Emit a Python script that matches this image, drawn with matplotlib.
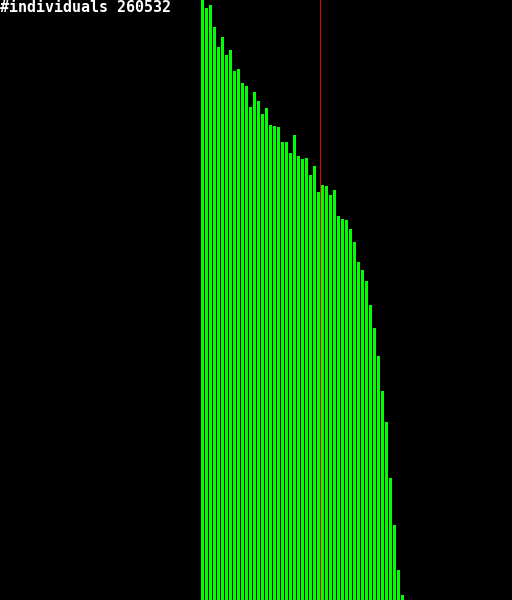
import matplotlib.pyplot as plt

# bar heights (pixel units, baseline at bottom)
tops = [0, 8, 5, 27, 47, 37, 55, 50, 71, 69, 83, 86, 107, 92, 101, 114, 108,
        125, 126, 127, 142, 142, 153, 135, 156, 159, 158, 175, 166, 192, 185,
        186, 195, 190, 216, 219, 220, 229, 242, 262, 270, 281, 305, 328, 356,
        391, 422, 478, 525, 570, 595]
counts = [600 - t for t in tops]
bins = list(range(len(counts)))
marker_bin = 29.75  # red line
n_individuals = 260532

fig = plt.figure(figsize=(5.12, 6), dpi=100, facecolor='black')
ax = fig.add_axes([0, 0, 1, 1])
ax.set_facecolor('black')

ax.bar(bins, counts, width=0.75, align='edge', color='#00ff00',
       linewidth=0, antialiased=False)
ax.axvspan(marker_bin, marker_bin + 0.25, color='#e00000', linewidth=0,
           antialiased=False)

ax.set_xlim(-201 / 4, 311 / 4)
ax.set_ylim(0, 600)
ax.axis('off')

fig.text(0.0, 1.0, '#individuals %d' % n_individuals, color='white',
         family='DejaVu Sans Mono', fontsize=10.8, weight='bold',
         ha='left', va='top')

fig.savefig('out.png', dpi=100, facecolor='black')
